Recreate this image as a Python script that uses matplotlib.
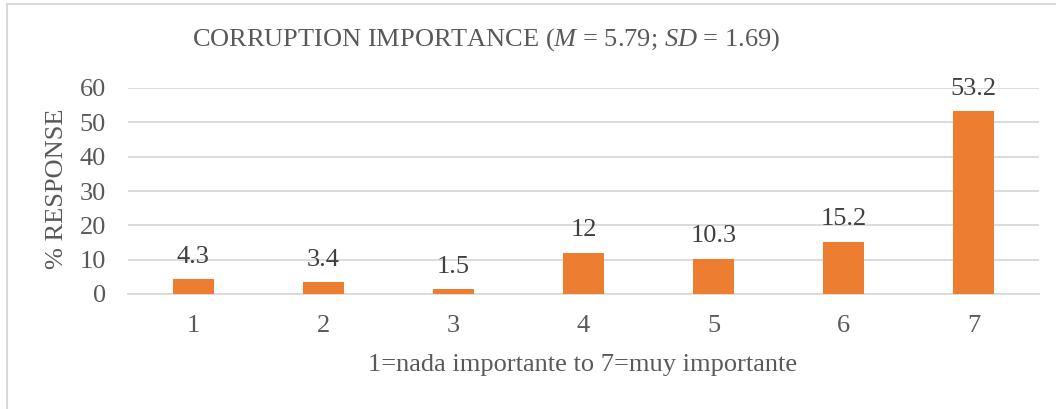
import matplotlib.pyplot as plt
from matplotlib.lines import Line2D

categories = ['1', '2', '3', '4', '5', '6', '7']
values = [4.3, 3.4, 1.5, 12, 10.3, 15.2, 53.2]
value_labels = ['4.3', '3.4', '1.5', '12', '10.3', '15.2', '53.2']

plt.rcParams['font.family'] = 'Liberation Serif'
plt.rcParams['mathtext.fontset'] = 'custom'
plt.rcParams['mathtext.rm'] = 'Liberation Serif'
plt.rcParams['mathtext.it'] = 'Liberation Serif:italic'

W, H = 1056, 409
fig = plt.figure(figsize=(W / 100, H / 100), dpi=100)
text_color = '#595959'
fs = 19

# plot area in pixels: x 128..1039, y 88 (60) .. 294 (0)
ax = fig.add_axes([128 / W, 1 - 294 / H, (1039 - 128) / W, (294 - 88) / H])
x = range(len(categories))
ax.bar(x, values, width=0.315, color='#ED7D31', zorder=3)
for xi, v, lab in zip(x, values, value_labels):
    ax.text(xi, v + 3.3, lab, ha='center', va='bottom', fontsize=fs, color='#404040')

ax.set_xlim(-0.5, 6.5)
ax.set_ylim(0, 60)
ax.set_yticks(range(0, 61, 10))
ax.set_xticks(list(x))
ax.set_xticklabels(categories)
ax.yaxis.grid(True, color='#d9d9d9', linewidth=1.3, zorder=0)
for s in ['top', 'right', 'left']:
    ax.spines[s].set_visible(False)
ax.spines['bottom'].set_color('#d9d9d9')
ax.spines['bottom'].set_linewidth(1.3)
ax.tick_params(axis='both', length=0, labelsize=fs, labelcolor=text_color)
ax.tick_params(axis='x', pad=15)
ax.tick_params(axis='y', pad=16)

fig.text(583 / W, 1 - 365 / H, '1=nada importante to 7=muy importante',
         ha='center', va='center', fontsize=fs, color=text_color)
fig.text(57 / W, 1 - 189 / H, '% RESPONSE', rotation=90,
         ha='center', va='center', fontsize=fs, color=text_color)
fig.text(486 / W, 1 - 40 / H, 'CORRUPTION IMPORTANCE ($M$ = 5.79; $SD$ = 1.69)',
         ha='center', va='center', fontsize=fs, color=text_color)

# chart frame (only left and top edges visible in the crop)
fig.add_artist(Line2D([6.5 / W, 6.5 / W], [0, 1 - 4 / H], transform=fig.transFigure, color='#d9d9d9', linewidth=1.5))
fig.add_artist(Line2D([6.5 / W, 1], [1 - 4 / H, 1 - 4 / H], transform=fig.transFigure, color='#d9d9d9', linewidth=1.5))

fig.savefig('out.png', dpi=100)
